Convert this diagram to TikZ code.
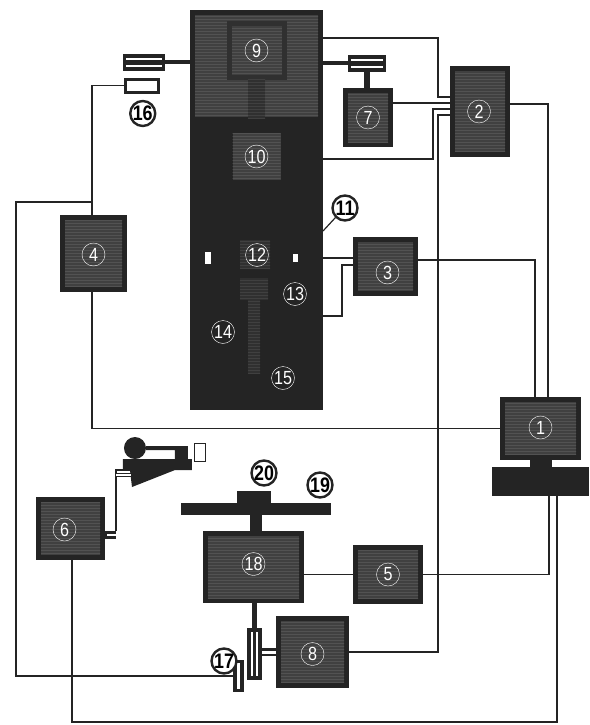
\documentclass[tikz,border=0pt]{standalone}
\usepackage{fontspec}
\newfontfamily\numfont[FakeStretch=0.85]{Liberation Sans}
\usetikzlibrary{positioning,calc,patterns}
\definecolor{inkdark}{HTML}{242424}
\definecolor{inkmid}{HTML}{404040}
\definecolor{inkline}{HTML}{525252}
\definecolor{inkframe}{HTML}{303030}

\begin{document}
\begin{tikzpicture}[
    x=1pt,
    y=-1pt,
    wh/.style 2 args={minimum width=#1, minimum height=#2},
    solid/.style={fill=inkdark, inner sep=0pt, outer sep=0pt},
    grain/.style={
        inner sep=0pt, outer sep=0pt,
        preaction={fill=inkmid},
        pattern=horizontal lines, pattern color=inkline
    },
    faint/.style={
        inner sep=0pt, outer sep=0pt,
        preaction={fill=inkframe},
        pattern=horizontal lines, pattern color=inkmid
    },
    box/.style={
        solid,
        path picture={
            \fill[inkmid] ($(path picture bounding box.south west)+(5,-5)$)
                rectangle ($(path picture bounding box.north east)+(-5,5)$);
            \fill[pattern=horizontal lines, pattern color=inkline]
                ($(path picture bounding box.south west)+(5,-5)$)
                rectangle ($(path picture bounding box.north east)+(-5,5)$);
        }
    },
    couplerh/.style={
        solid,
        path picture={
            \draw[white, line width=2pt]
                ($(path picture bounding box.west)+(3,-3.5)$) -- ($(path picture bounding box.east)+(-3,-3.5)$);
            \draw[white, line width=2pt]
                ($(path picture bounding box.west)+(3,3.5)$) -- ($(path picture bounding box.east)+(-3,3.5)$);
        }
    },
    couplerv/.style={
        solid,
        path picture={
            \draw[white, line width=1.5pt]
                ($(path picture bounding box.north)+(-2.5,4)$) -- ($(path picture bounding box.south)+(-2.5,-4)$);
            \draw[white, line width=1.5pt]
                ($(path picture bounding box.north)+(2.5,4)$) -- ($(path picture bounding box.south)+(2.5,-4)$);
        }
    },
    strip/.style={
        solid,
        path picture={
            \draw[white, line width=2.5pt]
                ($(path picture bounding box.north)+(0,3)$) -- ($(path picture bounding box.south)+(0,-3)$);
        }
    },
    hole/.style={fill=white, inner sep=0pt, outer sep=0pt},
    num/.style={
        circle, draw=white, text=white, thin,
        inner sep=0pt, minimum size=23pt,
        font=\numfont\fontsize{19}{19}\selectfont
    },
    tag/.style={
        circle, draw=inkdark, fill=white, line width=2.4pt, text=black,
        inner sep=0pt, minimum size=25pt,
        font=\numfont\bfseries\fontsize{21}{21}\selectfont
    },
    wire/.style={draw=inkdark, line width=1.2pt},
    shaft/.style={draw=inkdark, line width=4pt},
    dbl/.style={draw=inkdark, line width=1.8pt, double=white, double distance=2pt}
]
\useasboundingbox (0,0) rectangle (589,725);

% column
\node[solid, wh={133pt}{288pt}, anchor=north west] (lowercol) at (190,122) {};
\node[box, wh={133pt}{112pt}, above=0pt of lowercol] (uppercol) {};
\node[draw=inkframe, line width=5pt, grain, wh={55pt}{53pt}, below=14pt of uppercol.north] (box9) {};
\node[faint, wh={17pt}{39pt}, below=2pt of box9] (chimney) {};
\node[grain, wh={48pt}{47pt}, below=11pt of lowercol.north] (box10) {};
\node[faint, wh={30pt}{28pt}] (bore) at ([shift={(65,132)}]lowercol.north west) {};
\node[faint, wh={28pt}{22pt}] (rodtop) at ([shift={(64,167)}]lowercol.north west) {};
\node[faint, wh={12pt}{73pt}, below=0pt of rodtop] (rod) {};
\node[hole, wh={6pt}{12pt}] (slotl) at ([shift={(18,136)}]lowercol.north west) {};
\node[hole, wh={5pt}{8pt}] (slotr) at ([shift={(105,136)}]lowercol.north west) {};

% units
\node[box, wh={60pt}{91pt}, below right=56pt and 127pt of uppercol.north east] (box2) {};
\node[box, wh={50pt}{59pt}, below right=78pt and 20pt of uppercol.north east] (box7) {};
\node[box, wh={65pt}{59pt}, below right=115pt and 30pt of lowercol.north east] (box3) {};
\node[box, wh={67pt}{77pt}, below left=93pt and 63pt of lowercol.north west] (box4) {};
\node[box, wh={69pt}{63pt}, below left=87pt and 85pt of lowercol.south west] (box6) {};

% computer
\node[box, wh={81pt}{63pt}, below right=275pt and 177pt of lowercol.north east] (monitor) {};
\node[solid, wh={22pt}{7pt}, below=0pt of monitor] (neck) {};
\node[solid, wh={97pt}{29pt}, below=0pt of neck] (keyboard) {};

% stage
\node[box, wh={101pt}{72pt}, below right=121pt and 13pt of lowercol.south west] (box18) {};
\node[solid, wh={12pt}{16pt}, above=0pt of box18, xshift=2.5pt] (stem) {};
\node[solid, wh={150pt}{12pt}, above=0pt of stem] (stage) {};
\node[solid, wh={34pt}{14pt}, above=-2pt of stage, xshift=-2pt] (sample) {};
\node[box, wh={70pt}{59pt}, below right=14pt and 49pt of box18.north east] (box5) {};
\node[box, wh={73pt}{72pt}, below right=13pt and -28pt of box18.south east] (box8) {};
\node[couplerv, wh={15pt}{52pt}, left=14pt of box8.west, yshift=-2pt] (couplerb) {};
\node[strip, wh={11pt}{32pt}, below left=-20pt and 3pt of couplerb.south west] (sensor) {};

% couplers at the column head
\node[couplerh, wh={42pt}{17pt}, below left=44pt and 25pt of uppercol.north west] (couplerl) {};
\node[couplerh, wh={38pt}{17pt}, below right=45pt and 25pt of uppercol.north east] (couplerr) {};
\node[draw=inkdark, line width=2.5pt, fill=white, inner sep=0pt, wh={33pt}{13pt},
      below=7pt of couplerl.south west, anchor=north west, xshift=1pt] (box16) {};

\draw[shaft] (couplerl.east) -- (couplerl.east -| uppercol.west);
\draw[shaft] (couplerr.west) -- (couplerr.west -| uppercol.east);
\draw[shaft, line width=6pt] (couplerr.south) -- (couplerr.south |- box7.north);
\draw[shaft, line width=5pt] (couplerb.north) -- (couplerb.north |- box18.south);
\draw[dbl, line width=2.5pt, double distance=3pt] (box8.west) -- (box8.west -| couplerb.east);

% camera
\node[circle, solid, minimum size=22pt, above right=41.2pt and 22.2pt of box6.north east] (camhead) {};
\coordinate (camb) at ($(camhead.south)+(-12,0)$);
\fill[inkdark] (camb) -- ++(69,0) -- ++(0,11) -- ++(-17,0) -- ++(-43,17) -- ++(-2,-17) -- ++(-7,0) -- cycle;
\fill[inkdark] ($(camb)+(23,-13)$) -- ++(42,0) -- ++(0,13) -- ++(-13,0) -- ++(0,-9) -- ++(-29,0) -- cycle;
\node[draw=inkdark, fill=white, thin, inner sep=0pt, wh={11pt}{18pt},
      right=48pt of camhead.east, yshift=-4pt] (camlens) {};
\node[solid, wh={11pt}{8pt}, right=0pt of box6.east, yshift=-6pt] (couplerc) {};
\draw[white, line width=2pt] ($(couplerc.west)+(2,0)$) -- (couplerc.east);
\coordinate (camlinka) at ($(camb)+(8,11)$);
\coordinate (camlinkb) at ($(camb)+(8,16)$);
\draw[wire] (couplerc.north east) |- (camlinka);
\draw[dbl, line width=1.2pt, double distance=1.8pt] (camlinkb -| couplerc.east) -- (camlinkb);

% terminals
\coordinate (t2a) at ($(box2.north west)+(0,31)$);
\coordinate (t2b) at ($(box2.north west)+(0,37)$);
\coordinate (t2c) at ($(box2.north west)+(0,43)$);
\coordinate (t2d) at ($(box2.north west)+(0,49)$);
\coordinate (r2) at ($(box2.north east)+(0,38)$);
\coordinate (m1) at ($(monitor.north west)+(48,0)$);
\coordinate (m2) at ($(monitor.north west)+(35,0)$);
\coordinate (k1) at ($(keyboard.south west)+(57,0)$);
\coordinate (k2) at ($(keyboard.south west)+(65,0)$);
\coordinate (s3a) at ($(box3.north west)+(0,21)$);
\coordinate (s3b) at ($(box3.north west)+(0,28)$);
\coordinate (r3) at ($(box3.north east)+(0,23)$);
\coordinate (t4) at ($(box4.north west)+(32,0)$);
\coordinate (b4) at ($(box4.south west)+(32,0)$);
\coordinate (b6) at ($(box6.south west)+(36,0)$);

% wires
\draw[wire] ($(uppercol.north east)+(0,28)$) -- ++(115,0) |- (t2a);
\draw[wire] (t2b -| box7.east) -- (t2b);
\draw[wire] ($(lowercol.north east)+(0,37)$) -- ++(110,0) |- (t2c);
\draw[wire] (box8.east) -- ++(89,0) |- (t2d);
\draw[wire] (r2) -| (m1);
\draw[wire] (r3) -| (m2);
\draw[wire] (s3a -| lowercol.east) -- (s3a);
\draw[wire] ($(lowercol.north east)+(0,194)$) -- ++(19,0) |- (s3b);
\draw[wire] (b4) |- (monitor.west);
\draw[wire] (t4) |- (box16.west);
\draw[wire] (t4) -- ++(0,-13) -- ++(-76,0) |- (sensor.west);
\draw[wire] (b6) -- ++(0,162) -| (k2);
\draw[wire] (box5.east) -| (k1);
\draw[wire] (box5.west) -- (box5.west -| box18.east);

% numbers on the units
\node[num] (n1) at ([shift={(0,-1)}]monitor.center) {1};
\node[num] (n2) at ([shift={(-1,0)}]box2.center) {2};
\node[num] (n3) at ([shift={(2,6)}]box3.center) {3};
\node[num] (n4) at ([shift={(0,1)}]box4.center) {4};
\node[num] (n5) at (box5.center) {5};
\node[num] (n6) at ([shift={(-6,1)}]box6.center) {6};
\node[num] (n7) at (box7.center) {7};
\node[num] (n8) at ([shift={(0,2)}]box8.center) {8};
\node[num] (n9) at (box9.center) {9};
\node[num] (n10) at (box10.center) {10};
\node[num] (n12) at ([shift={(67,133)}]lowercol.north west) {12};
\node[num] (n13) at ([shift={(105,172)}]lowercol.north west) {13};
\node[num] (n14) at ([shift={(33,210)}]lowercol.north west) {14};
\node[num] (n15) at ([shift={(93,256)}]lowercol.north west) {15};
\node[num] (n18) at ([shift={(0,-3)}]box18.center) {18};

% callouts
\node[tag] (n11) at ([shift={(22,86)}]lowercol.north east) {11};
\draw[wire] (n11.south west) -- ($(lowercol.north east)+(0,109)$);
\node[tag] (n16) at ([shift={(1,20)}]box16.south) {16};
\node[tag] (n17) at ([shift={(-9,-15)}]sensor.west) {17};
\node[tag] (n19) at ([shift={(-11,-18)}]stage.north east) {19};
\node[tag] (n20) at ([shift={(10,-18)}]sample.north) {20};

\end{tikzpicture}
\end{document}
